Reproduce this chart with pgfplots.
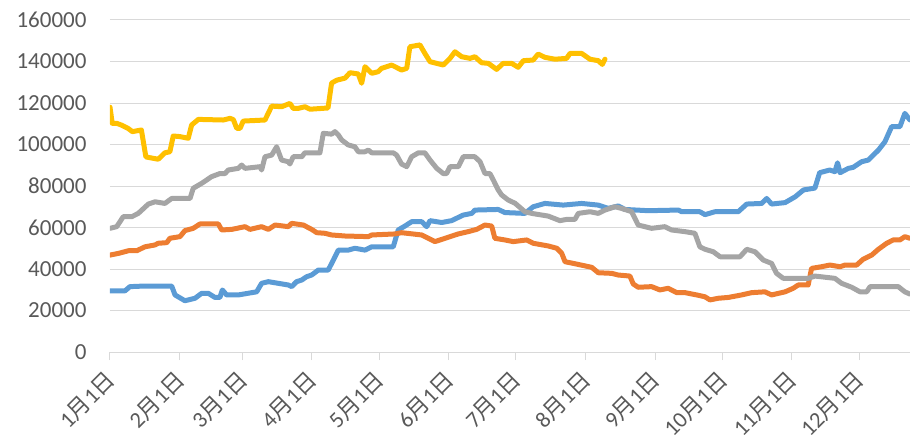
\documentclass[border=0pt]{standalone}
\usepackage{pgfplots}
\pgfplotsset{compat=1.18}
\usepackage{fontspec}
\setmainfont{Carlito}
\newfontfamily\cjk{Noto Sans CJK SC}
\definecolor{sblue}{HTML}{5B9BD5}
\definecolor{sorange}{HTML}{ED7D31}
\definecolor{sgray}{HTML}{A5A5A5}
\definecolor{sgold}{HTML}{FFC000}
\definecolor{gridc}{HTML}{D9D9D9}
\definecolor{labc}{HTML}{595959}
\newcommand{\md}[1]{#1{\cjk 月}1{\cjk 日}}
\begin{document}
\begin{tikzpicture}
\begin{axis}[
  scale only axis,
  width=800pt, height=332pt,
  xmin=0, xmax=356.7,
  ymin=0, ymax=160000,
  ytick={0,20000,40000,60000,80000,100000,120000,140000,160000},
  yticklabels={0,20000,40000,60000,80000,100000,120000,140000,160000},
  scaled y ticks=false,
  xtick={0,31,59,90,120,151,181,212,243,273,304,334},
  xticklabels={\md{1},\md{2},\md{3},\md{4},\md{5},\md{6},\md{7},\md{8},\md{9},\md{10},\md{11},\md{12}},
  axis x line*=bottom,
  axis y line*=left,
  x axis line style={draw=gridc, line width=1pt, -},
  y axis line style={draw=none},
  xtick align=outside,
  major tick length=8pt,
  xtick style={draw=gridc, line width=1pt},
  ymajorgrids,
  grid style={draw=gridc, line width=1pt},
  ytick style={draw=none},
  tick label style={text=labc},
  x tick label style={font=\fontsize{22.5}{26}\selectfont, xshift=2pt, yshift=-15pt, rotate=45, anchor=east, inner sep=1pt},
  y tick label style={font=\fontsize{23}{26}\selectfont, anchor=east, xshift=-20pt},
  clip=true,
  every axis plot/.append style={line width=5pt, line join=round, line cap=round},
]
% blue
\addplot[sblue] coordinates {
(0,29500)(6.7,29500)(8.9,31500)(15.6,31800)(27.5,31800)(29,27500)(33.4,24700)(37.9,25900)
(40.9,28300)(43.8,28300)(46.8,26300)(49,26300)(50.1,29900)(52,27500)(57.2,27500)(63.2,28600)
(65.4,29000)(67.6,33100)(70.6,33900)(72.8,33500)(79.5,32300)(81,31500)(83.2,33900)(85.5,34700)
(87.7,36300)(89.9,37100)(92.9,39500)(97.3,39500)(99.6,44300)(101.8,49100)(106.2,49100)(109.2,50000)
(113.7,49100)(116.7,50700)(126.3,50700)(128.5,58800)(131.5,60700)(134.5,62800)(139,62800)(141.2,60400)
(142.7,63300)(147.9,62400)(152.3,63300)(157.5,66000)(161.3,66800)(162.7,68400)(173.1,68700)(176.1,67200)
(185,66800)(188.7,70000)(193.9,71600)(202.1,70800)(210.3,71600)(217.7,70800)(222.2,69200)(226.6,70400)
(229.6,68700)(240,68100)(253.4,68400)(254.9,67600)(263,67600)(265.3,66200)(269.7,67600)(280.1,67600)
(283.9,71300)(290.6,71600)(292.8,74000)(295,71300)(301,72000)(305.5,74800)(309.2,78100)(314.3,79000)
(316.4,86400)(320.9,87700)(323.2,86900)(324.4,91200)(325.5,86400)(329.2,88500)(331.4,89000)(335.1,91700)
(338.1,92500)(342.6,97300)(345.5,101300)(348.5,108600)(352.2,108600)(354.4,115000)(356.7,111800)
};
% orange
\addplot[sorange] coordinates {
(0,46700)(3.7,47500)(8.2,48800)(11.9,48800)(15.6,50700)(20.1,51600)(21.5,52400)(25.3,52700)
(26.7,54800)(31.2,55600)(33.4,58500)(37.1,59600)(40.1,61700)(48.3,61700)(49.8,58800)(54.3,59100)
(60.2,60400)(62.4,59100)(67.6,60400)(70.6,59100)(73.6,61200)(79.5,60400)(81,62000)(86.2,61200)
(89.9,59100)(92.2,57500)(95.9,57200)(98.8,56400)(104.8,55900)(115.2,55600)(116.7,56400)(127.1,56900)
(130,57500)(139,56400)(144.9,53200)(149.4,54800)(155.3,56900)(159.7,58000)(163.5,59100)(167.2,61200)
(170.2,60700)(171.6,54800)(176.1,54000)(179.8,53200)(185.8,54000)(188.7,52400)(195.4,51100)(199.2,50000)
(201.4,47600)(202.9,43500)(206.6,42700)(214.8,40800)(217.7,38200)(223.7,37900)(226.6,37100)(231.8,36600)
(233.3,32800)(235.5,31200)(241.5,31500)(245.2,29900)(248.9,30700)(252.7,28600)(256.4,28600)(261.6,27500)
(265.3,26600)(267.5,25100)(271.2,25900)(275.7,26300)(281.6,27500)(286.1,28600)(292,29000)(295,27500)
(301,29000)(304.6,30700)(306.9,32300)(311.3,32300)(312.8,40300)(317.3,41100)(321,41900)(325.5,41100)
(327.7,41900)(332.9,41900)(335.8,44700)(339.6,46700)(342.6,49500)(346.3,52400)(349.2,54000)(352.2,54000)
(354.4,55600)(356.7,54800)
};
% gray
\addplot[sgray] coordinates {
(0,59600)(3,60400)(5.9,65200)(9.7,65200)(12.6,66800)(17.1,71300)(20.1,72400)(24.5,71600)
(27.5,74000)(35.7,74000)(37.1,78900)(40.9,81300)(45.3,84500)(49,86000)(51.3,86000)(52.7,87700)
(57.2,88500)(58.7,90100)(60.2,88500)(66.9,89300)(67.6,87700)(69.1,94100)(72.1,94900)(74.3,98900)
(76.5,92500)(79.5,91700)(80.2,90600)(81.7,94100)(85.5,94100)(86.9,96000)(93.6,96000)(95.1,105400)
(98.8,105000)(100.3,106200)(101.8,104600)(103.3,102200)(106.2,99800)(109.2,98900)(110.7,96500)(113.7,96500)
(115.2,97300)(116.7,96000)(126.3,96000)(127.8,94900)(130,90600)(132.3,89300)(134.5,94100)(137.5,96000)
(140.4,96000)(142.7,92500)(145.7,88500)(148.6,86000)(150.1,86000)(151.6,89300)(155.3,89300)(157.5,94100)
(162.7,94100)(165,91700)(167.2,86000)(169.4,86000)(170.9,82900)(173.1,78100)(174.6,75700)(177.6,73200)
(180.6,71700)(185,67600)(188,66800)(195.4,65500)(200.6,63300)(203.6,63900)(207.3,63900)(208.8,66800)
(214,67600)(217.7,66800)(220.7,68400)(225.1,70000)(228.1,69200)(232.6,67600)(235.5,61200)(241.5,59600)
(247.4,60400)(250.4,58800)(256.4,58000)(260.8,57200)(263,50700)(265.3,49500)(269,48300)(272,45900)
(280.9,45900)(283.9,49500)(287.6,48300)(291.3,44300)(295,42700)(297.2,37900)(300.2,35500)(311.3,35500)
(314.3,36600)(323.2,35500)(326.2,33100)(330.7,31200)(334.4,29000)(337.4,29000)(338.9,31500)(351.5,31500)
(354.4,29000)(356.7,27900)
};
% gold
\addplot[sgold] coordinates {
(0,118000)(1,110200)(3,110200)(5,109400)(8,107800)(10,106200)(14,107000)(16,94000)
(21.5,92900)(24.5,96000)(26.7,96500)(28.2,104100)(31.2,103800)(34.9,103000)(36.4,109400)(39.4,112100)
(50.5,111800)(53.5,112600)(55,112000)(56.5,107800)(58,107800)(59.4,111300)(69.1,111800)(72.1,118500)
(76.5,118200)(80.2,119800)(81.7,117400)(83.9,117400)(86.9,118200)(89.2,117000)(97.2,117600)(98.8,129600)
(101.1,131000)(104.8,132000)(107,134600)(110.7,134000)(112.2,129500)(113.7,137500)(116.7,134300)(119.6,135100)
(121.1,136700)(125.6,138300)(130,135900)(132.3,136700)(133.7,147100)(138.2,148000)(140.4,143900)(142.7,139900)
(148.6,138300)(151.6,141500)(153.8,144700)(156.8,142300)(160.5,141500)(162.7,142300)(165.7,139400)(168.7,139100)
(172.4,136200)(175.3,139100)(179.1,139100)(182,137200)(184.3,140400)(188.7,140700)(190.9,143600)(193.9,142000)
(198.4,141100)(203.6,141500)(205.1,143900)(210.3,143900)(214,141100)(217.7,140400)(219.5,138600)(220.7,141100)
};
\end{axis}
\pgfresetboundingbox
\path ([shift={(-110pt,-90pt)}]current axis.south west) rectangle ([shift={(0pt,20pt)}]current axis.north east);
\end{tikzpicture}
\end{document}
